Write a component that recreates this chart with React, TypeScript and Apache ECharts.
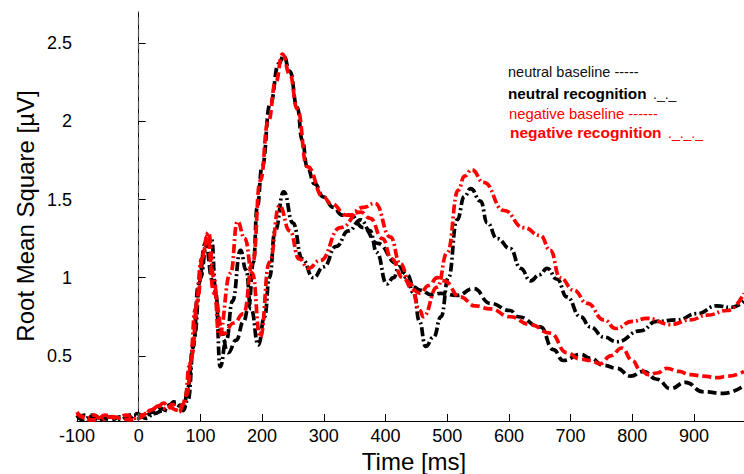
import React, { useEffect, useRef } from "react";
import * as echarts from "echarts";

// neutral baseline (black dashed)
const nbTime = [-100, -88, -78, -65, -57, -45, -30, -15, -3, 10, 22, 35, 45, 57, 66, 73, 80, 88, 97, 108, 120, 133, 145, 158, 170, 178, 186, 192, 200, 213, 227, 235, 245, 257, 265, 273, 285, 300, 315, 330, 343, 364, 387, 419, 435, 446, 456, 475, 489, 516, 543, 570, 602, 615, 651, 672, 688, 716, 732, 753, 775, 797, 818, 840, 862, 886, 915, 948, 981];
const nbVals = [0.10, 0.12, 0.11, 0.08, 0.10, 0.09, 0.11, 0.10, 0.13, 0.11, 0.14, 0.165, 0.15, 0.206, 0.18, 0.175, 0.3, 0.55, 0.96, 1.22, 0.98, 0.66, 0.52, 0.6, 0.72, 0.81, 1.1, 1.45, 1.71, 2.11, 2.37, 2.42, 2.32, 2.09, 1.88, 1.71, 1.6, 1.515, 1.45, 1.40, 1.40, 1.32, 1.22, 1.09, 1.02, 0.94, 0.92, 0.89, 0.90, 0.887, 0.93, 0.835, 0.79, 0.75, 0.685, 0.54, 0.47, 0.51, 0.485, 0.44, 0.42, 0.37, 0.40, 0.35, 0.29, 0.33, 0.27, 0.26, 0.31];

// neutral recognition (black dash-dot)
const nrTime = [-100, -90, -75, -60, -45, -30, -15, 0, 12, 25, 40, 52, 62, 72, 80, 90, 100, 110, 118, 125, 132, 142, 152, 165, 174, 182, 194, 204, 212, 221, 235, 250, 265, 283, 300, 320, 340, 360, 375, 386, 402, 413, 422, 434, 446, 455, 465, 478, 490, 502, 516, 528, 538, 554, 565, 581, 602, 619, 635, 650, 662, 678, 694, 716, 732, 754, 775, 813, 840, 873, 905, 937, 960, 981];
const nrVals = [0.12, 0.09, 0.12, 0.10, 0.11, 0.09, 0.12, 0.12, 0.10, 0.13, 0.15, 0.19, 0.2, 0.15, 0.22, 0.62, 1.0, 1.2, 1.25, 0.9, 0.43, 0.6, 0.85, 1.175, 1.05, 0.8, 0.57, 0.75, 1.0, 1.3, 1.55, 1.35, 1.12, 1.0, 1.07, 1.2, 1.3, 1.37, 1.3, 1.16, 0.96, 1.0, 1.07, 1.0, 0.9, 0.72, 0.56, 0.62, 0.75, 1.0, 1.37, 1.52, 1.57, 1.49, 1.35, 1.25, 1.186, 1.06, 0.98, 1.02, 1.06, 0.99, 0.877, 0.75, 0.685, 0.62, 0.59, 0.66, 0.72, 0.73, 0.77, 0.82, 0.81, 0.85];

// negative baseline (red dashed)
const ngbTime = [-100, -90, -80, -68, -55, -41, -28, -14, 0, 10, 19, 30, 40, 50, 62, 70, 78, 86, 95, 104, 111, 122, 137, 154, 170, 185, 197, 210, 222, 233, 245, 257, 273, 300, 311, 338, 360, 375, 395, 410, 428, 445, 456, 470, 484, 495, 521, 545, 570, 602, 635, 667, 694, 715, 732, 748, 765, 783, 800, 813, 826, 840, 856, 875, 894, 915, 937, 955, 981];
const ngbVals = [0.14, 0.11, 0.09, 0.09, 0.12, 0.11, 0.10, 0.09, 0.10, 0.12, 0.153, 0.17, 0.197, 0.17, 0.153, 0.18, 0.25, 0.5, 0.85, 1.15, 1.27, 0.9, 0.64, 0.71, 0.77, 1.1, 1.62, 2.0, 2.25, 2.43, 2.3, 2.08, 1.71, 1.515, 1.475, 1.40, 1.42, 1.38, 1.25, 1.12, 1.0, 0.92, 0.9, 0.95, 1.0, 0.98, 0.877, 0.82, 0.80, 0.75, 0.70, 0.645, 0.52, 0.48, 0.47, 0.45, 0.5, 0.55, 0.47, 0.41, 0.38, 0.39, 0.42, 0.40, 0.38, 0.37, 0.36, 0.37, 0.40];

// negative recognition (red dash-dot)
const ngrTime = [-100, -85, -72, -60, -48, -35, -20, -8, 5, 20, 32, 45, 55, 65, 74, 83, 92, 102, 113, 122, 130, 149, 160, 172, 184, 197, 212, 228, 245, 260, 275, 294, 327, 364, 383, 408, 424, 440, 456, 461, 484, 500, 518, 528, 540, 559, 592, 624, 651, 667, 683, 705, 727, 754, 773, 800, 824, 862, 894, 921, 954, 981];
const ngrVals = [0.13, 0.10, 0.12, 0.09, 0.11, 0.10, 0.12, 0.10, 0.12, 0.15, 0.18, 0.16, 0.19, 0.14, 0.2, 0.45, 0.8, 1.12, 1.29, 1.0, 0.63, 1.03, 1.36, 1.25, 1.03, 0.62, 1.1, 1.46, 1.3, 1.12, 1.06, 1.11, 1.32, 1.45, 1.475, 1.26, 1.09, 0.96, 0.79, 0.75, 0.94, 1.16, 1.56, 1.65, 1.69, 1.61, 1.43, 1.32, 1.27, 1.175, 1.0, 0.92, 0.835, 0.73, 0.675, 0.72, 0.74, 0.70, 0.73, 0.76, 0.79, 0.90];

const xTicks = [-100, 0, 100, 200, 300, 400, 500, 600, 700, 800, 900];
const yTicks = [0.5, 1, 1.5, 2, 2.5];

const legendLines = [
  "neutral baseline -----",
  "neutral recognition",
  "negative baseline ------",
  "negative recognition",
];
const legendSuffix = ["", "._._", "", "._._._"];

const FONT = '"Liberation Sans", Arial, sans-serif';

const zip = (t: number[], v: number[]) => t.map((x, i) => [x, v[i]]);

export default function App() {
  const ref = useRef<HTMLDivElement>(null);
  useEffect(() => {
    if (!ref.current) return;
    const chart = echarts.init(ref.current, null, { renderer: "svg" });
    const mk = (name: string, t: number[], v: number[], color: string, dash: number[], extra: any = {}) => ({
      name,
      type: "line",
      data: zip(t, v),
      symbol: "none",
      smooth: 0.5,
      smoothMonotone: "x",
      lineStyle: { color, width: 3.7, type: dash, cap: "butt" },
      silent: true,
      ...extra,
    });
    chart.setOption({
      animation: false,
      backgroundColor: "#fff",
      grid: { left: 77, right: 0, top: 12, bottom: 53, containLabel: false, outerBoundsMode: "none" },
      xAxis: {
        type: "value",
        min: -100,
        max: 981,
        axisLine: { show: true, lineStyle: { color: "#000", width: 1 } },
        axisTick: { show: true, inside: true, length: 7, customValues: xTicks, lineStyle: { color: "#000" } },
        axisLabel: { customValues: xTicks, fontSize: 18, color: "#000", margin: 6, fontFamily: FONT },
        splitLine: { show: false },
      },
      yAxis: {
        type: "value",
        min: 0.083,
        max: 2.7,
        axisLine: { show: true, lineStyle: { color: "#000", width: 1 } },
        axisTick: { show: true, inside: true, length: 7, customValues: yTicks, lineStyle: { color: "#000" } },
        axisLabel: { customValues: yTicks, fontSize: 18, color: "#000", margin: 5, fontFamily: FONT, formatter: (v: number) => String(v) },
        splitLine: { show: false },
      },
      series: [
        mk("neutral baseline", nbTime, nbVals, "#000", [9, 4], {
          markLine: {
            silent: true,
            symbol: "none",
            label: { show: false },
            lineStyle: { color: "#555", width: 1.2, type: [8, 4] },
            data: [{ xAxis: 0 }],
          },
        }),
        mk("neutral recognition", nrTime, nrVals, "#000", [9, 3, 2, 3]),
        mk("negative baseline", ngbTime, ngbVals, "#ff0000", [9, 4]),
        mk("negative recognition", ngrTime, ngrVals, "#ff0000", [9, 3, 2, 3]),
      ],
      graphic: [
        {
          type: "text", x: 25, y: 216, rotation: Math.PI / 2, silent: true,
          style: { text: "Root Mean Square [µV]", font: `24px ${FONT}`, fill: "#000", textAlign: "center", textVerticalAlign: "middle" },
        },
        {
          type: "text", x: 414, y: 461, silent: true,
          style: { text: "Time [ms]", font: `24px ${FONT}`, fill: "#000", textAlign: "center", textVerticalAlign: "middle" },
        },
        {
          type: "text", x: 508, y: 72, silent: true,
          style: { text: legendLines[0], font: `14.5px ${FONT}`, fill: "#111", textVerticalAlign: "middle" },
        },
        {
          type: "text", x: 508, y: 93.5, silent: true,
          style: { text: legendLines[1], font: `bold 15.3px ${FONT}`, fill: "#000", textVerticalAlign: "middle" },
        },
        {
          type: "text", x: 653, y: 93.5, silent: true,
          style: { text: legendSuffix[1], font: `14px ${FONT}`, fill: "#222", textVerticalAlign: "middle" },
        },
        {
          type: "text", x: 509, y: 113.5, silent: true,
          style: { text: legendLines[2], font: `14.8px ${FONT}`, fill: "#ff0000", textVerticalAlign: "middle" },
        },
        {
          type: "text", x: 510, y: 132.5, silent: true,
          style: { text: legendLines[3], font: `bold 15.5px ${FONT}`, fill: "#ff0000", textVerticalAlign: "middle" },
        },
        {
          type: "text", x: 668, y: 132.5, silent: true,
          style: { text: legendSuffix[3], font: `14px ${FONT}`, fill: "#ff0000", textVerticalAlign: "middle" },
        },
      ],
    });
    return () => chart.dispose();
  }, []);
  return <div ref={ref} style={{ position: "fixed", left: 0, top: 0, width: 744, height: 474, background: "#fff" }} />;
}
